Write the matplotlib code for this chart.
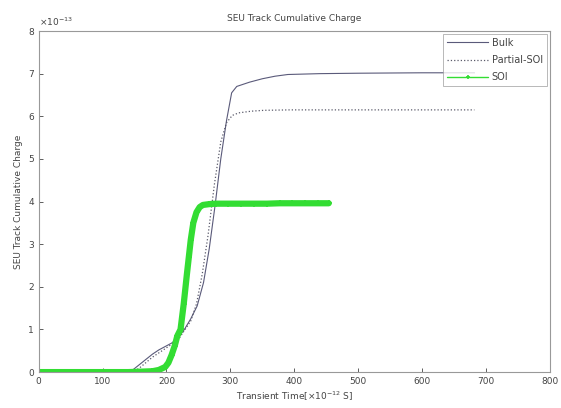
import matplotlib.pyplot as plt

# values (charge in units of 1e-13)
bulk_t = [0, 100, 138, 148, 158, 168, 178, 188, 198, 208, 218, 228, 238, 248, 258,
          267, 276, 285, 294, 302, 310, 330, 350, 370, 390, 440, 500, 600, 682]
bulk_q = [0, 0, 0.02, 0.06, 0.18, 0.30, 0.42, 0.52, 0.60, 0.68, 0.80, 1.00, 1.25, 1.55, 2.10,
          2.90, 3.90, 5.00, 5.90, 6.55, 6.70, 6.80, 6.88, 6.94, 6.98, 7.00, 7.01, 7.02, 7.02]

psoi_t = [0, 148, 158, 178, 198, 218, 238, 247, 256, 265, 275, 285, 294, 303, 313,
          333, 353, 393, 500, 682]
psoi_q = [0, 0, 0.10, 0.35, 0.55, 0.75, 1.20, 1.60, 2.30, 3.20, 4.40, 5.40, 5.85, 6.02, 6.08,
          6.12, 6.14, 6.15, 6.15, 6.15]

soi_t = [0, 20, 40, 60, 80, 100, 120, 140, 160, 178, 188, 198, 203, 208, 213, 217, 222,
         227, 232, 235, 238, 242, 247, 252, 257, 267, 277, 297, 317, 337, 357, 377, 397,
         417, 437, 454]
soi_q = [0, 0, 0, 0, 0, 0, 0, 0, 0.01, 0.02, 0.05, 0.12, 0.22, 0.40, 0.62, 0.85, 1.00,
         1.60, 2.30, 2.70, 3.10, 3.50, 3.75, 3.87, 3.92, 3.94, 3.95, 3.95, 3.95, 3.95, 3.95,
         3.96, 3.96, 3.96, 3.96, 3.96]

fs = 6.5
fig = plt.figure(figsize=(5.61, 4.08), dpi=100)
ax = fig.add_axes([0.069, 0.088, 0.911, 0.836])

ax.plot(bulk_t, bulk_q, '-', color='#5a5a7a', lw=0.8, label='Bulk')
ax.plot(psoi_t, psoi_q, ':', color='#5a5a6a', lw=0.9, label='Partial-SOI')
ax.plot(soi_t, soi_q, '-', color='#33dd33', lw=4.5, marker='+', ms=4, mew=1.2,
        label='SOI', solid_capstyle='round')

ax.set_xlim(0, 800)
ax.set_ylim(0, 8)
ax.set_xticks(range(0, 801, 100))
ax.set_yticks(range(0, 9))
ax.tick_params(direction='in', length=3, labelsize=fs, colors='#444444', width=0.6)
for s in ax.spines.values():
    s.set_color('#999999')
    s.set_linewidth(0.8)

ax.set_title('SEU Track Cumulative Charge', fontsize=fs, color='#444444', pad=7)
ax.set_xlabel('Transient Time[×10$^{-12}$ S]', fontsize=fs, color='#444444', labelpad=3)
ax.set_ylabel('SEU Track Cumulative Charge', fontsize=fs, color='#444444', labelpad=4)
ax.text(0.0, 1.008, '×10$^{-13}$', transform=ax.transAxes, fontsize=fs, color='#444444',
        ha='left', va='bottom')

leg = ax.legend(loc='upper right', fontsize=7, frameon=True, fancybox=False,
                edgecolor='#999999', handlelength=4.2, handletextpad=0.4,
                labelspacing=0.75, borderaxespad=0.3, markerscale=0.8)
leg.get_frame().set_linewidth(0.6)
for h in leg.get_lines():
    if h.get_label() == 'SOI':
        h.set_linewidth(1.0)
for t in leg.get_texts():
    t.set_color('#444444')

fig.savefig('out.png', dpi=100)
